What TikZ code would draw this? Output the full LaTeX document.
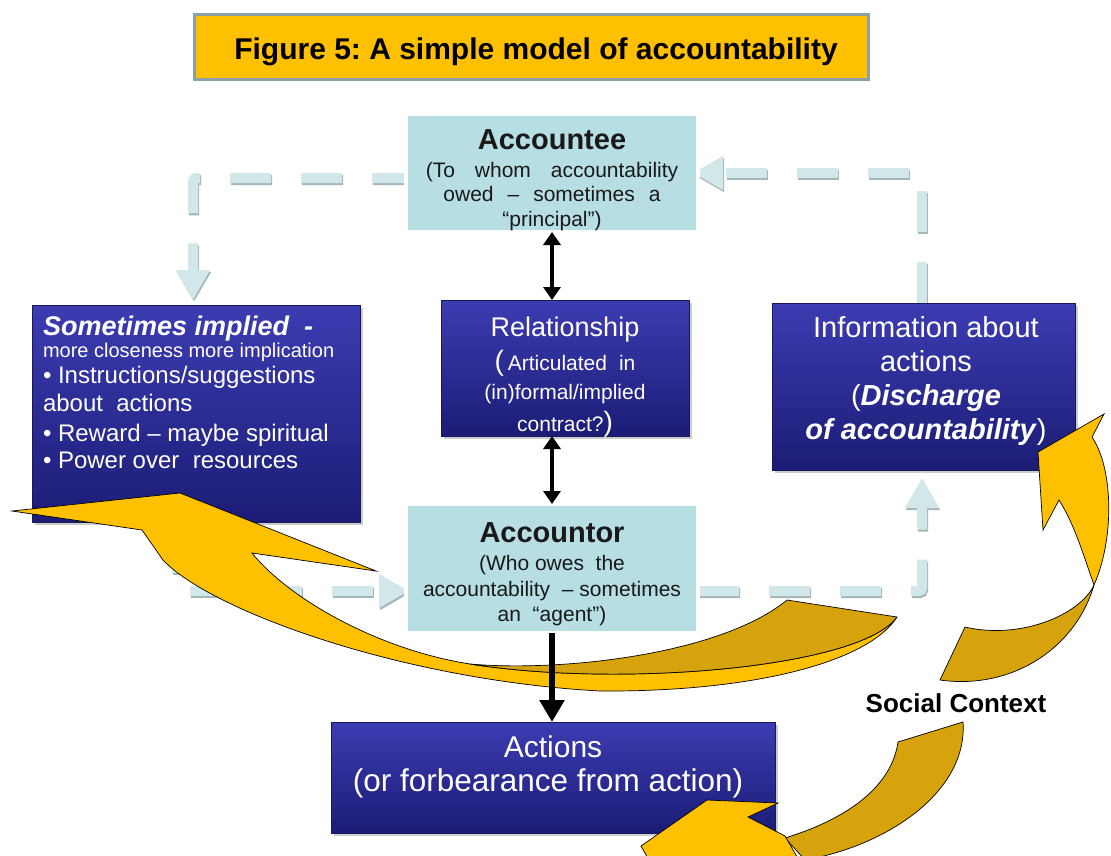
\documentclass[tikz,border=0pt]{standalone}
\usepackage{fontspec}
\setmainfont{Liberation Sans}
\usetikzlibrary{arrows.meta,shadows}
\pgfdeclarelayer{bg}
\pgfdeclarelayer{flows}
\pgfsetlayers{bg,flows,main}
\frenchspacing
\definecolor{gold}{RGB}{255,192,0}
\definecolor{darkgold}{RGB}{214,163,12}
\definecolor{titleborder}{RGB}{140,158,168}
\definecolor{cyanfill}{RGB}{183,222,226}
\definecolor{navytop}{RGB}{60,60,178}
\definecolor{navybot}{RGB}{28,28,118}
\definecolor{navyline}{RGB}{24,24,90}
\definecolor{flowc}{RGB}{210,231,233}
\definecolor{flowsh}{RGB}{165,182,184}
\newcommand\fs[2]{\fontsize{#1pt}{#2pt}\selectfont}
\newcommand\flowline[2][]{%
  \draw[flow, draw=flowsh, transform canvas={xshift=1pt,yshift=-2pt}, #1] #2;
  \draw[flow, #1] #2;}
\begin{document}
\begin{tikzpicture}[x=1pt,y=-1pt,
  every node/.style={inner sep=0pt, outer sep=0pt},
  titlebox/.style={fill=gold, draw=titleborder, line width=3pt},
  lightbox/.style={fill=cyanfill, draw=white, line width=4pt,
    drop shadow={shadow xshift=1pt, shadow yshift=-1.5pt, opacity=0.35}},
  darkbox/.style={top color=navytop, bottom color=navybot, draw=navyline, line width=0.8pt,
    drop shadow={shadow xshift=2.5pt, shadow yshift=-3pt, opacity=0.4}},
  flow/.style={draw=flowc, line width=10pt, dash pattern=on 41pt off 30pt,
    rounded corners=3pt, -{Triangle[length=30pt,width=32pt]}},
  biarrow/.style={line width=4pt, {Triangle[length=13pt,width=17pt]}-{Triangle[length=13pt,width=17pt]}},
  downarrow/.style={line width=6pt, -{Triangle[length=22pt,width=24pt]}},
  lightarrow/.style={fill=gold, draw=black, line width=0.7pt},
  darkarrow/.style={fill=darkgold, draw=black, line width=0.7pt},
  whitetext/.style={text=white, align=center},
  blacktext/.style={text=black!90, align=center}
]
\useasboundingbox (0,0) rectangle (1111,855);
\begin{pgfonlayer}{bg}
  \fill[white] (0,0) rectangle (1111,855);
\end{pgfonlayer}

% boxes
\node[titlebox, minimum width=674pt, minimum height=65pt] (title) at (531,46.5) {};
\node[lightbox, minimum width=292pt, minimum height=118pt] (accountee) at (552,173) {};
\node[darkbox, minimum width=248pt, minimum height=136pt] (relationship) at (565,368) {};
\node[darkbox, minimum width=328pt, minimum height=217pt] (leftbox) at (196,413.5) {};
\node[darkbox, minimum width=303pt, minimum height=167pt] (infobox) at (923.5,386.5) {};
\node[lightbox, minimum width=292pt, minimum height=129pt] (accountor) at (552,568.5) {};
\node[darkbox, minimum width=444pt, minimum height=111pt] (actions) at (553,777.5) {};

% dashed flow connectors
\begin{pgfonlayer}{flows}
  \flowline[shorten >=5pt]{([xshift=7pt,yshift=-5pt]accountee.west) -| ([xshift=-3pt]leftbox.north)}
  \flowline[shorten >=-5pt]{([xshift=-1.5pt]infobox.north) |- (accountee.east)}
  \flowline[dash phase=61pt, shorten >=-3pt]{([xshift=-19pt]leftbox.south) |- ([yshift=-22.5pt]accountor.west)}
  \flowline[shorten >=8pt]{([yshift=-22.5pt]accountor.east) -| ([xshift=-1.5pt]infobox.south)}
\end{pgfonlayer}

% yellow curved arrows (social context)
\begin{scope}
  \clip (0,0) rectangle (1111,855);
  % arrow 1
  \path[lightarrow] (12,511) -- (180,493) -- (376,571) -- (252,553)
    .. controls (290,600) and (380,650) .. (470,664)
    .. controls (620,688) and (860,668) .. (897,617)
    .. controls (870,660) and (760,692) .. (600,691)
    .. controls (400,680) and (210,610) .. (163,560) -- (142,530) -- cycle;
  \path[darkarrow] (470,664) .. controls (560,672) and (720,655) .. (787,600)
    -- (897,617) .. controls (860,668) and (620,688) .. (470,664) -- cycle;
  % arrow 2
  \path[darkarrow] (1094,585) .. controls (1080,615) and (1020,640) .. (965,627)
    -- (940,680) .. controls (1010,690) and (1075,650) .. (1094,585) -- cycle;
  \path[lightarrow] (1038,452) -- (1104,414) -- (1092,437)
    .. controls (1114,470) and (1114,540) .. (1094,585)
    .. controls (1085,560) and (1075,525) .. (1059,500) -- (1043,530) -- cycle;
  % arrow 3
  \path[darkarrow] (785,838) .. controls (850,818) and (892,785) .. (898,742)
    -- (963,722) .. controls (968,790) and (890,845) .. (805,860) -- cycle;
  \path[lightarrow] (641,846) -- (707,800) -- (778,803) -- (748,817)
    -- (785,836) -- (800,862) -- (650,862) -- cycle;
\end{scope}

% black connectors
\draw[biarrow] (accountee.south) -- (accountee.south |- relationship.north);
\draw[biarrow] (accountor.north) -- (accountor.north |- relationship.south);
\draw[downarrow] (accountor.south) -- (accountor.south |- actions.north);

% texts
\node[font=\fs{30}{34}\bfseries, text=black] (titletext) at (536,52) {Figure 5: A simple model of accountability};
\node[blacktext, font=\fs{21}{24.5}] (accounteetext) at (552,180)
  {{\fs{29}{29}\bfseries Accountee}\\[3pt]
   (To\hspace{20pt}whom\hspace{20pt}accountability\\
   owed\hspace{14pt}–\hspace{14pt}sometimes\hspace{14pt}a\\
   “principal”)};
\node[whitetext, font=\fs{21}{29}] (relationshiptext) at (565,377)
  {{\fs{27}{27}Relationship}\\[5pt]
   {\fs{28}{28}(}\hspace{4pt}Articulated\hspace{12pt}in\\
   (in)formal/implied\\[3pt]
   contract?{\fs{28}{28})}};
\node[text=white, align=left, anchor=north west, font=\fs{24}{28}] (lefttext) at (43,316)
  {{\fs{27}{27}\bfseries\itshape Sometimes implied~~-}\\[-6pt]
   {\fs{20}{20}more closeness more implication}\\[-2pt]
   • Instructions/suggestions\\
   about~~actions\\[2pt]
   • Reward – maybe spiritual\\[-1pt]
   • Power over~~resources};
\node[whitetext, font=\fs{29}{34}] (infotext) at (926,381)
  {Information about\\ actions\\ (\textbf{\textit{Discharge}}\\ \textbf{\textit{of accountability}})};
\node[blacktext, font=\fs{21}{26}] (accountortext) at (552,574)
  {{\fs{29}{29}\bfseries Accountor}\\[2pt]
   (Who owes~~the\\
   accountability~~– sometimes\\[-1pt]
   an~~“agent”)};
\node[whitetext, font=\fs{30}{34}] (actionstext) at (548,767)
  {\hspace{10pt}Actions\\ {\fs{31.5}{34}(or forbearance from action)\hspace{10pt}}};
\node[font=\fs{26}{26}\bfseries, text=black] (social) at (956,703) {Social Context};
\end{tikzpicture}
\end{document}
